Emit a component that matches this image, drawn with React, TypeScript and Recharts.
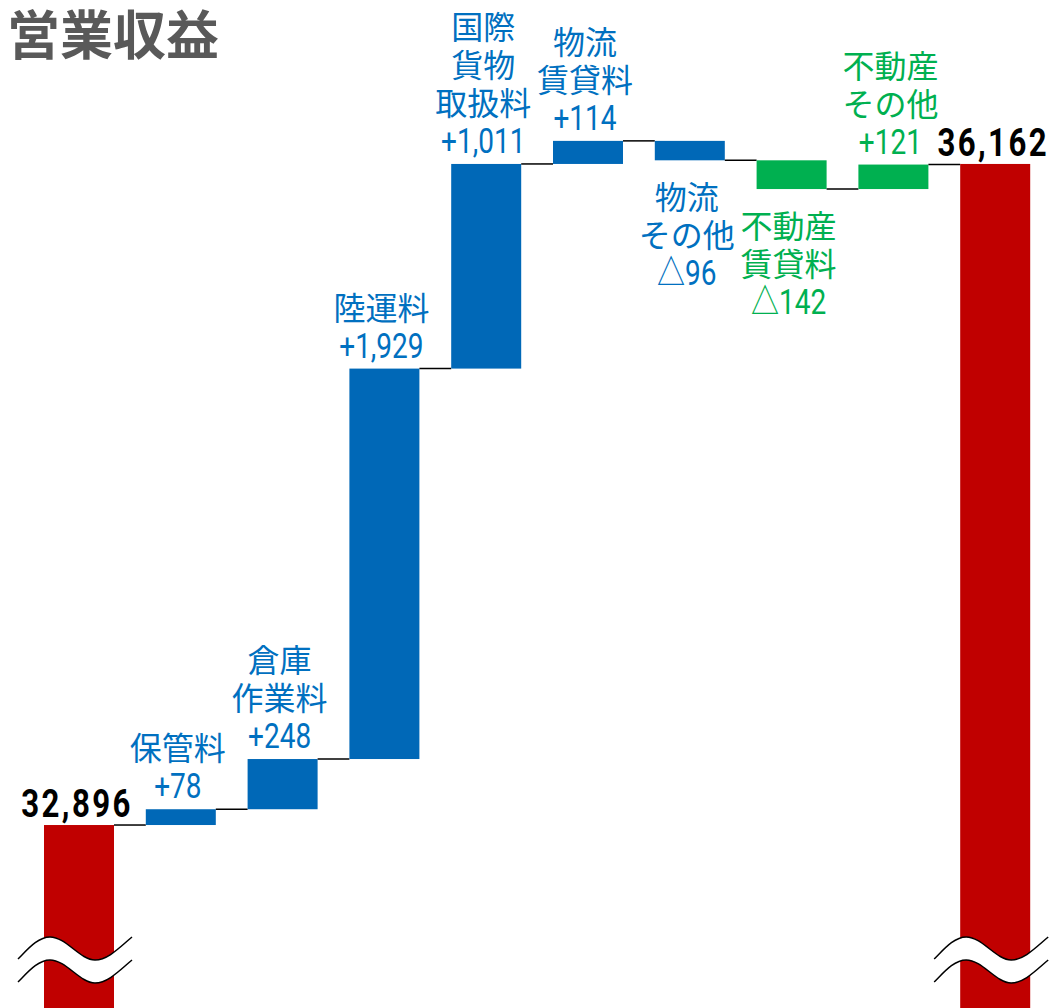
import React from 'react';
import { BarChart, Bar, XAxis, YAxis } from 'recharts';

// totals at both ends
const startValue = 32896;
const endValue = 36162;
const startLabel = '32,896';
const endLabel = '36,162';

// change items
const itemNames = ['保管料', '倉庫作業料', '陸運料', '国際貨物取扱料', '物流賃貸料', '物流その他', '不動産賃貸料', '不動産その他'];
const itemDeltas = [78, 248, 1929, 1011, 114, -96, -142, 121];
const itemLabelLines = [
  ['保管料', '+78'],
  ['倉庫', '作業料', '+248'],
  ['陸運料', '+1,929'],
  ['国際', '貨物', '取扱料', '+1,011'],
  ['物流', '賃貸料', '+114'],
  ['物流', 'その他', '△96'],
  ['不動産', '賃貸料', '△142'],
  ['不動産', 'その他', '+121'],
];
const itemSegments = ['logistics', 'logistics', 'logistics', 'logistics', 'logistics', 'logistics', 'realestate', 'realestate'];

// axis is cut (break marks), so it starts near the start value
const axisDomain = [31992, 36972];

const W = 1060;
const H = 1008;
const M = { top: 0, right: 14, left: 28, bottom: 0 };
const BAND = (W - M.left - M.right) / (itemDeltas.length + 2);

const barColors: Record<string, string> = { total: '#c00000', logistics: '#0068b7', realestate: '#00b050' };
const textColors: Record<string, string> = { total: '#000000', logistics: '#0070c0', realestate: '#00b050' };

const CJK = '"Noto Sans CJK JP", sans-serif';
const NUM = 'Roboto, "Noto Sans CJK JP", sans-serif';

type Row = { name: string; range: number[]; kind: string; delta: number; label: string[] };

const rows: Row[] = [];
rows.push({ name: 'start', range: [axisDomain[0], startValue], kind: 'total', delta: 0, label: [startLabel] });
let running = startValue;
itemDeltas.forEach((d, i) => {
  const from = running;
  running += d;
  rows.push({
    name: itemNames[i],
    range: [Math.min(from, running), Math.max(from, running)],
    kind: itemSegments[i],
    delta: d,
    label: itemLabelLines[i],
  });
});
rows.push({ name: 'end', range: [axisDomain[0], endValue], kind: 'total', delta: 0, label: [endLabel] });

function breakMark(x: number, py: number) {
  const upper = `M${x - 26},${py + 22} C${x - 16},${py + 12} ${x - 6},${py} ${x + 6},${py} C${x + 22},${py} ${x + 36},${py + 23} ${x + 51},${py + 23} C${x + 64},${py + 23} ${x + 76},${py + 10} ${x + 88},${py}`;
  const lower = `M${x - 26},${py + 45} C${x - 16},${py + 35} ${x - 6},${py + 23} ${x + 6},${py + 23} C${x + 22},${py + 23} ${x + 36},${py + 46} ${x + 51},${py + 46} C${x + 64},${py + 46} ${x + 76},${py + 33} ${x + 88},${py + 23}`;
  const fill = `${upper} L${x + 88},${py + 23} C${x + 76},${py + 33} ${x + 64},${py + 46} ${x + 51},${py + 46} C${x + 36},${py + 46} ${x + 22},${py + 23} ${x + 6},${py + 23} C${x - 6},${py + 23} ${x - 16},${py + 35} ${x - 26},${py + 45} Z`;
  return (
    <g>
      <path d={fill} fill="#fff" stroke="none" />
      <path d={upper} fill="none" stroke="#000" strokeWidth={1.5} />
      <path d={lower} fill="none" stroke="#000" strokeWidth={1.5} />
    </g>
  );
}

function WaterfallShape(props: any) {
  const { x, y, width, height, index } = props;
  const row = rows[index];
  const cx = x + width / 2;
  const isTotal = row.kind === 'total';
  const level = isTotal || row.delta >= 0 ? y : y + height;
  const color = textColors[row.kind];

  let labels: React.ReactNode = null;
  if (isTotal) {
    labels = (
      <text
        transform={`translate(${cx - 2},${y - 8}) scale(0.8,1)`}
        textAnchor="middle"
        fontFamily={NUM}
        fontWeight="bold"
        fontSize={39}
        letterSpacing={3}
        fill="#000"
      >
        {row.label[0]}
      </text>
    );
  } else {
    const n = row.label.length;
    const baseOf = (i: number) =>
      row.delta >= 0 ? y - 11 - (n - 1 - i) * 38 : y + height + 49 + i * 38;
    labels = row.label.map((line, i) => {
      const numeric = i === n - 1;
      if (numeric) {
        return (
          <text
            key={i}
            transform={`translate(${cx - 3},${baseOf(i)}) scale(0.8,1)`}
            textAnchor="middle"
            fontFamily={NUM}
            fontSize={35}
            fill={color}
          >
            {line}
          </text>
        );
      }
      return (
        <text key={i} x={cx - 3} y={baseOf(i)} textAnchor="middle" fontFamily={CJK} fontSize={32} fill={color}>
          {line}
        </text>
      );
    });
  }

  return (
    <g>
      <rect x={x} y={y} width={width} height={height} fill={barColors[row.kind]} />
      {index < rows.length - 1 && (
        <line x1={x + width} x2={x + BAND} y1={level} y2={level} stroke="#000" strokeWidth={1.5} />
      )}
      {isTotal && breakMark(x, y + height - 71)}
      {labels}
    </g>
  );
}

export default function App() {
  return (
    <div style={{ position: 'absolute', left: 0, top: 0, width: W, height: H, background: '#fff' }}>
      <BarChart width={W} height={H} data={rows} margin={M} barSize={70}>
        <XAxis dataKey="name" hide />
        <YAxis hide type="number" domain={axisDomain} allowDataOverflow />
        <Bar dataKey="range" shape={WaterfallShape} isAnimationActive={false} />
      </BarChart>
      <div
        style={{
          position: 'absolute',
          left: 7,
          top: 6,
          fontFamily: CJK,
          fontWeight: 'bold',
          fontSize: 53,
          lineHeight: 1,
          color: '#595959',
        }}
      >
        営業収益
      </div>
    </div>
  );
}
